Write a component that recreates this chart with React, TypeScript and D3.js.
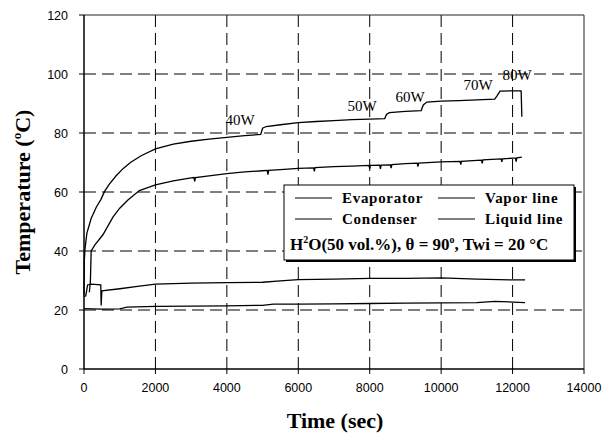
import React from "react";
import * as d3 from "d3";

const xTicks = [0, 2000, 4000, 6000, 8000, 10000, 12000, 14000];
const yTicks = [0, 20, 40, 60, 80, 100, 120];

const evaporator: [number, number][] = [
  [0, 25], [10, 37], [30, 41], [80, 46], [200, 51], [350, 55], [475, 57.5], [575, 60.2],
  [700, 62.5], [900, 65.5], [1100, 68], [1300, 70], [1600, 72.3], [2000, 74.6], [2500, 76.2],
  [3000, 77.2], [3500, 77.9], [4000, 78.5], [4500, 79.1], [4950, 79.5], [5000, 81.6],
  [5100, 82.2], [5500, 82.8], [6000, 83.5], [6500, 83.9], [7000, 84.2], [7500, 84.5],
  [8000, 84.7], [8420, 84.9], [8470, 86.3], [8550, 86.9], [9000, 87.3], [9440, 87.6],
  [9500, 89.5], [9600, 90.5], [10000, 90.8], [10500, 91.0], [11000, 91.2], [11500, 91.5],
  [11560, 92.5], [11650, 94.2], [12000, 94.3], [12240, 94.3], [12260, 85.5],
];

const vaporLine: [number, number][] = [
  [150, 26], [180, 30], [200, 40], [300, 42], [530, 45.5], [810, 51.5], [1000, 54.5],
  [1230, 57.3], [1550, 60.5], [2000, 62.4], [2500, 63.8], [3000, 64.8], [3080, 64.9],
  [3100, 63.6], [3120, 64.9], [3500, 65.5], [4000, 66.2], [4500, 66.8], [5000, 67.2],
  [5130, 67.3], [5150, 65.9], [5170, 67.3], [5500, 67.6], [6000, 68], [6430, 68.2],
  [6450, 67.0], [6470, 68.3], [7000, 68.6], [7500, 68.8], [7980, 69.0], [8000, 67.8],
  [8020, 69.0], [8280, 69.1], [8300, 67.8], [8320, 69.1], [8580, 69.2], [8600, 68.1],
  [8620, 69.3], [9000, 69.6], [9330, 69.8], [9350, 68.6], [9370, 69.8], [10000, 70.2],
  [10530, 70.4], [10550, 69.3], [10570, 70.4], [11000, 70.7], [11130, 70.8],
  [11150, 69.7], [11170, 70.9], [11680, 71.2], [11700, 70.2], [11720, 71.2],
  [12000, 71.5], [12080, 71.5], [12100, 70.3], [12120, 71.6], [12260, 71.8],
];

const condenser: [number, number][] = [
  [0, 24.5], [50, 24.8], [100, 28.5], [200, 28.8], [470, 28.5], [480, 21.5], [500, 26.5],
  [1000, 27.2], [1500, 28.0], [2000, 28.8], [3000, 29.1], [4000, 29.3], [5000, 29.4],
  [5500, 29.9], [6000, 30.3], [7000, 30.5], [8000, 30.7], [9000, 30.7], [10000, 30.9],
  [11000, 30.5], [12000, 30.2], [12350, 30.2],
];

const liquidLine: [number, number][] = [
  [0, 20.5], [500, 20.3], [1000, 20.4], [1200, 21.0], [2000, 21.2], [3000, 21.3],
  [4000, 21.4], [5000, 21.6], [5300, 22.0], [6000, 22.0], [7000, 22.1], [8000, 22.2],
  [9000, 22.3], [10000, 22.4], [11000, 22.5], [11500, 22.9], [12000, 22.7], [12350, 22.5],
];

const powerLabels: { text: string; t: number; v: number }[] = [
  { text: "40W", t: 4370, v: 84.4 },
  { text: "50W", t: 7785, v: 89.2 },
  { text: "60W", t: 9130, v: 92.4 },
  { text: "70W", t: 11035, v: 96.3 },
  { text: "80W", t: 12125, v: 99.7 },
];

const W = 603;
const H = 434;
const left = 84;
const right = 584;
const top = 15;
const bottom = 369;

export default function App() {
  const x = d3.scaleLinear().domain([0, 14000]).range([left, right]);
  const y = d3.scaleLinear().domain([0, 120]).range([bottom, top]);
  const line = d3
    .line<[number, number]>()
    .x((d) => x(d[0]))
    .y((d) => y(d[1]));

  const serif = "'Liberation Serif', 'Times New Roman', serif";
  const sans = "'Liberation Sans', Arial, sans-serif";

  return (
    <svg
      width={W}
      height={H}
      style={{ position: "absolute", left: 0, top: 0, background: "#fff" }}
    >
      <rect x={0} y={0} width={W} height={H} fill="#fff" />
      {/* gridlines */}
      {yTicks
        .filter((v) => v > 0 && v < 120)
        .map((v) => (
          <line
            key={"gy" + v}
            x1={left}
            x2={right}
            y1={y(v)}
            y2={y(v)}
            stroke="#000"
            strokeWidth={1}
            strokeDasharray="12,6"
          />
        ))}
      {xTicks
        .filter((v) => v > 0 && v < 14000)
        .map((v) => (
          <line
            key={"gx" + v}
            x1={x(v)}
            x2={x(v)}
            y1={top}
            y2={bottom}
            stroke="#000"
            strokeWidth={1}
            strokeDasharray="12,6"
          />
        ))}
      {/* frame */}
      <line x1={left} x2={right} y1={y(120)} y2={y(120)} stroke="#222" strokeWidth={1} />
      <line x1={x(14000)} x2={x(14000)} y1={top} y2={bottom} stroke="#222" strokeWidth={1} />
      <line x1={left} x2={left} y1={top} y2={bottom} stroke="#000" strokeWidth={1.5} />
      <line x1={left} x2={right} y1={bottom} y2={bottom} stroke="#000" strokeWidth={1.5} />
      {/* ticks */}
      {yTicks.map((v) => (
        <g key={"ty" + v}>
          <line x1={left - 5} x2={left} y1={y(v)} y2={y(v)} stroke="#000" strokeWidth={1} />
          <text
            x={left - 16}
            y={y(v)}
            dy="0.36em"
            textAnchor="end"
            fontFamily={sans}
            fontSize={12.5}
            fill="#000"
          >
            {v}
          </text>
        </g>
      ))}
      {xTicks.map((v) => (
        <g key={"tx" + v}>
          <line x1={x(v)} x2={x(v)} y1={bottom} y2={bottom + 5} stroke="#000" strokeWidth={1} />
          <text
            x={x(v)}
            y={392}
            textAnchor="middle"
            fontFamily={sans}
            fontSize={12.5}
            fill="#000"
          >
            {v}
          </text>
        </g>
      ))}
      {/* series */}
      {[evaporator, vaporLine, condenser, liquidLine].map((s, i) => (
        <path key={"s" + i} d={line(s) || ""} fill="none" stroke="#000" strokeWidth={1.3} />
      ))}
      {/* power labels */}
      {powerLabels.map((p) => (
        <text
          key={p.text}
          x={x(p.t)}
          y={y(p.v)}
          dy="0.35em"
          textAnchor="middle"
          fontFamily={serif}
          fontSize={15}
          fill="#000"
        >
          {p.text}
        </text>
      ))}
      {/* legend */}
      <rect x={286} y={187} width={290} height={75} fill="#000" />
      <rect x={284} y={185} width={290} height={75} fill="#fff" stroke="#000" strokeWidth={1} />
      <line x1={295} x2={332} y1={198} y2={198} stroke="#000" strokeWidth={1} />
      <line x1={438} x2={475} y1={198} y2={198} stroke="#000" strokeWidth={1} />
      <line x1={295} x2={332} y1={219} y2={219} stroke="#000" strokeWidth={1} />
      <line x1={438} x2={475} y1={219} y2={219} stroke="#000" strokeWidth={1} />
      <g fontFamily={serif} fontWeight="bold" fontSize={15} fill="#000" letterSpacing={0.7}>
        <text x={342} y={203}>Evaporator</text>
        <text x={485} y={203}>Vapor line</text>
        <text x={342} y={224}>Condenser</text>
        <text x={485} y={224}>Liquid line</text>
      </g>
      <text x={290} y={250} fontFamily={serif} fontWeight="bold" fontSize={17} fill="#000">
        H<tspan fontSize={10} dy={-7}>2</tspan>
        <tspan dy={7}>O(50 vol.%), θ = 90</tspan>
        <tspan fontSize={10} dy={-7}>o</tspan>
        <tspan dy={7}>, Twi = 20 °C</tspan>
      </text>
      {/* axis titles */}
      <text
        x={335}
        y={428}
        textAnchor="middle"
        fontFamily={serif}
        fontWeight="bold"
        fontSize={22}
        fill="#000"
      >
        Time (sec)
      </text>
      <text
        transform="translate(30,192) rotate(-90)"
        textAnchor="middle"
        fontFamily={serif}
        fontWeight="bold"
        fontSize={22}
        fill="#000"
      >
        Temperature (<tspan fontSize={13} dy={-9}>o</tspan>
        <tspan dy={9}>C)</tspan>
      </text>
    </svg>
  );
}
